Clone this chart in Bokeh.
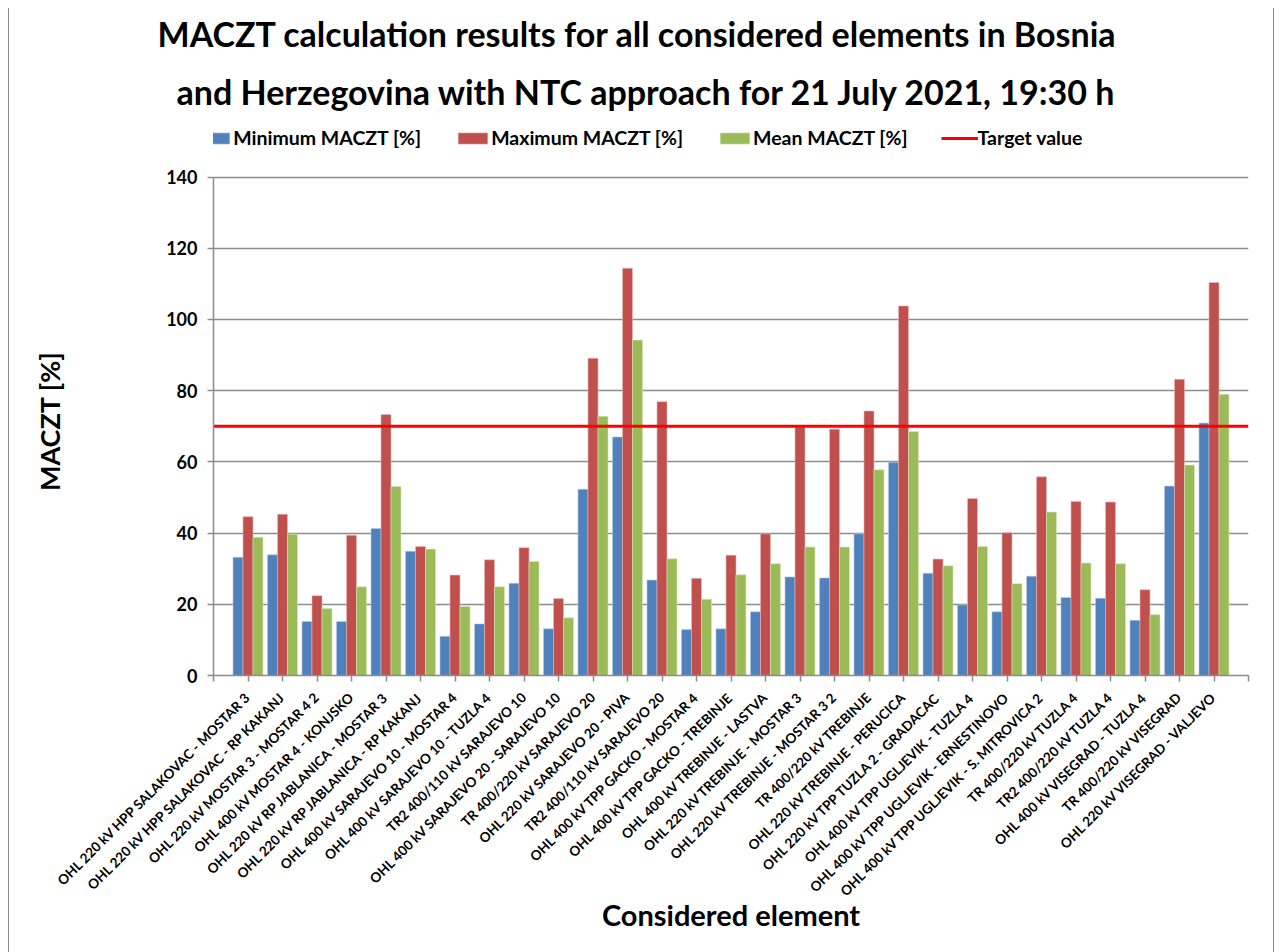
import math
from bokeh.plotting import figure
from bokeh.models import (ColumnDataSource, Range1d, FixedTicker, Title, Legend,
                          LegendItem)
from bokeh.transform import dodge
from bokeh.embed import file_html
from bokeh.resources import INLINE

categories = [
    "OHL 220 kV HPP SALAKOVAC - MOSTAR 3",
    "OHL 220 kV HPP SALAKOVAC - RP KAKANJ",
    "OHL 220 kV MOSTAR 3 - MOSTAR 4 2",
    "OHL 400 kV MOSTAR 4 - KONJSKO",
    "OHL 220 kV RP JABLANICA - MOSTAR 3",
    "OHL 220 kV RP JABLANICA - RP KAKANJ",
    "OHL 400 kV SARAJEVO 10 - MOSTAR 4",
    "OHL 400 kV SARAJEVO 10 - TUZLA 4",
    "TR2 400/110 kV SARAJEVO 10",
    "OHL 400 kV SARAJEVO 20 - SARAJEVO 10",
    "TR 400/220 kV SARAJEVO 20",
    "OHL 220 kV SARAJEVO 20 - PIVA",
    "TR2 400/110 kV SARAJEVO 20",
    "OHL 400 kV TPP GACKO - MOSTAR 4",
    "OHL 400 kV TPP GACKO - TREBINJE",
    "OHL 400 kV TREBINJE - LASTVA",
    "OHL 220 kV TREBINJE - MOSTAR 3",
    "OHL 220 kV TREBINJE - MOSTAR 3 2",
    "TR 400/220 kV TREBINJE",
    "OHL 220 kV TREBINJE - PERUCICA",
    "OHL 220 kV TPP TUZLA 2 - GRADACAC",
    "OHL 400 kV TPP UGLJEVIK - TUZLA 4",
    "OHL 400 kV TPP UGLJEVIK - ERNESTINOVO",
    "OHL 400 kV TPP UGLJEVIK - S. MITROVICA 2",
    "TR 400/220 kV TUZLA 4",
    "TR2 400/220 kV TUZLA 4",
    "OHL 400 kV VISEGRAD - TUZLA 4",
    "TR 400/220 kV VISEGRAD",
    "OHL 220 kV VISEGRAD - VALJEVO",
]

min_maczt = [33.2, 33.9, 15.2, 15.2, 41.3, 34.9, 11.0, 14.5, 25.9, 13.1,
             52.3, 67.0, 26.8, 12.9, 13.1, 17.9, 27.7, 27.4, 39.8, 59.9,
             28.7, 19.8, 17.9, 27.9, 21.9, 21.7, 15.5, 53.2, 70.9]
max_maczt = [44.6, 45.3, 22.4, 39.4, 73.3, 36.2, 28.2, 32.5, 35.9, 21.6,
             89.1, 114.4, 76.9, 27.3, 33.8, 39.8, 69.8, 69.2, 74.3, 103.8,
             32.7, 49.7, 40.1, 55.8, 48.9, 48.7, 24.1, 83.2, 110.4]
mean_maczt = [38.8, 39.7, 18.8, 24.9, 53.1, 35.5, 19.4, 24.9, 32.0, 16.2,
              72.8, 94.2, 32.8, 21.4, 28.3, 31.4, 36.1, 36.1, 57.8, 68.5,
              30.8, 36.2, 25.8, 45.9, 31.6, 31.4, 17.1, 59.1, 79.0]
target_value = 70

y_ticks = [0, 20, 40, 60, 80, 100, 120, 140]
y_axis_max = 140

FONT = "Lato"
BLUE = "#4F81BD"
RED = "#C0504D"
GREEN = "#9BBB59"
GRID = "#8C8C8C"

n = len(categories)
xs = list(range(1, n + 1))
source = ColumnDataSource(dict(x=xs, mn=min_maczt, mx=max_maczt, me=mean_maczt))

# the frame is extended upwards (axis bounded at 140) so the legend can sit in it
p = figure(width=1266, height=944, output_backend="svg", toolbar_location=None,
           x_range=Range1d(0, n + 1), y_range=Range1d(0, 154.2),
           min_border_left=204, min_border_right=27, min_border_top=118,
           min_border_bottom=277)
p.styles = {"margin-left": "8px", "margin-top": "8px",
            "border-left": "1px solid #8C8C8C", "border-right": "1px solid #8C8C8C"}
p.outline_line_color = None
p.background_fill_color = "white"
p.border_fill_color = "white"

bw = 0.29
r_min = p.vbar(x=dodge("x", -bw, range=p.x_range), top="mn", width=bw, source=source,
               fill_color=BLUE, line_color="#B9CDE5", line_width=0.6)
r_max = p.vbar(x="x", top="mx", width=bw, source=source,
               fill_color=RED, line_color="#E6B9B8", line_width=0.6)
r_mean = p.vbar(x=dodge("x", bw, range=p.x_range), top="me", width=bw, source=source,
                fill_color=GREEN, line_color="#D7E4BD", line_width=0.6)
r_target = p.line(x=[0, n + 1], y=[target_value, target_value],
                  line_color="#FF0000", line_width=3)

# axes
p.xgrid.visible = False
p.ygrid.grid_line_color = GRID
p.ygrid.grid_line_width = 1.5
p.yaxis.ticker = FixedTicker(ticks=y_ticks)
p.yaxis.bounds = (0, y_axis_max)
p.xaxis.ticker = FixedTicker(ticks=list(range(0, n + 2)))
overrides = {i + 1: c for i, c in enumerate(categories)}
overrides[0] = ""
overrides[n + 1] = ""
p.xaxis.major_label_overrides = overrides
p.xaxis.major_label_orientation = math.pi / 4

for ax in (p.xaxis[0], p.yaxis[0]):
    ax.axis_line_color = GRID
    ax.axis_line_width = 1.5
    ax.major_tick_line_color = GRID
    ax.major_tick_line_width = 1.5
    ax.major_tick_in = 0
    ax.major_tick_out = 6
    ax.minor_tick_line_color = None
    ax.major_label_text_font = FONT
    ax.major_label_text_font_style = "bold"
    ax.major_label_text_color = "black"
    ax.axis_label_text_font = FONT
    ax.axis_label_text_font_style = "bold"
    ax.axis_label_text_color = "black"

p.yaxis.major_label_text_font_size = "18px"
p.yaxis.major_label_standoff = 10
# two em spaces keep the visible label centred on the 0-140 part of the axis
p.yaxis.axis_label = "MACZT [%]\u2003\u2003"
p.yaxis.axis_label_text_font_size = "27px"
p.yaxis.axis_label_standoff = 97

p.xaxis.major_label_text_font_size = "13.5px"
p.xaxis.major_label_standoff = 13
p.xaxis.axis_label = "Considered element"
p.xaxis.axis_label_text_font_size = "29px"
p.xaxis.axis_label_standoff = -11

legend = Legend(items=[
    LegendItem(label="Minimum MACZT [%]", renderers=[r_min]),
    LegendItem(label="Maximum MACZT [%]", renderers=[r_max]),
    LegendItem(label="Mean MACZT [%]", renderers=[r_mean]),
    LegendItem(label="Target value", renderers=[r_target]),
], orientation="horizontal", location=(-16.75, 526))
legend.label_text_font = FONT
legend.label_text_font_style = "bold"
legend.label_text_font_size = "19.5px"
legend.label_text_color = "black"
legend.glyph_width = 37
legend.glyph_height = 14
legend.label_standoff = 0
legend.spacing = 33
legend.padding = 0
legend.margin = 0
legend.border_line_color = None
legend.background_fill_alpha = 0
p.add_layout(legend, "center")

t2 = Title(text="and Herzegovina with NTC approach for 21 July 2021, 19:30 h",
           align="left", text_font=FONT, text_font_style="bold", text_color="black",
           text_font_size="34px", text_line_height=0.8, offset=-37, standoff=30)
t1 = Title(text="MACZT calculation results for all considered elements in Bosnia",
           align="left", text_font=FONT, text_font_style="bold", text_color="black",
           text_font_size="34px", text_line_height=0.8, offset=-56, standoff=0)
p.add_layout(t2, "above")
p.add_layout(t1, "above")

open("out.html", "w").write(file_html(p, INLINE))
